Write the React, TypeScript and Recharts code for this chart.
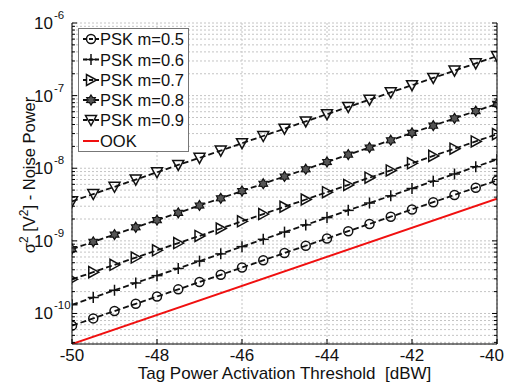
import { LineChart, Line, XAxis, YAxis, CartesianGrid } from "recharts";

const threshold = [-50, -49.5, -49, -48.5, -48, -47.5, -47, -46.5, -46, -45.5, -45, -44.5, -44, -43.5, -43, -42.5, -42, -41.5, -41, -40.5, -40];

const pskM05 = [6.8e-11, 8.56e-11, 1.08e-10, 1.36e-10, 1.71e-10, 2.15e-10, 2.71e-10, 3.41e-10, 4.29e-10, 5.4e-10, 6.8e-10, 8.56e-10, 1.08e-9, 1.36e-9, 1.71e-9, 2.15e-9, 2.71e-9, 3.41e-9, 4.29e-9, 5.4e-9, 6.8e-9];
const pskM06 = [1.32e-10, 1.66e-10, 2.09e-10, 2.63e-10, 3.32e-10, 4.17e-10, 5.26e-10, 6.62e-10, 8.33e-10, 1.05e-9, 1.32e-9, 1.66e-9, 2.09e-9, 2.63e-9, 3.32e-9, 4.17e-9, 5.26e-9, 6.62e-9, 8.33e-9, 1.05e-8, 1.32e-8];
const pskM07 = [2.95e-10, 3.71e-10, 4.68e-10, 5.89e-10, 7.41e-10, 9.33e-10, 1.17e-9, 1.48e-9, 1.86e-9, 2.34e-9, 2.95e-9, 3.71e-9, 4.68e-9, 5.89e-9, 7.41e-9, 9.33e-9, 1.17e-8, 1.48e-8, 1.86e-8, 2.34e-8, 2.95e-8];
const pskM08 = [7.7e-10, 9.69e-10, 1.22e-9, 1.54e-9, 1.93e-9, 2.43e-9, 3.07e-9, 3.86e-9, 4.86e-9, 6.12e-9, 7.7e-9, 9.69e-9, 1.22e-8, 1.54e-8, 1.93e-8, 2.43e-8, 3.07e-8, 3.86e-8, 4.86e-8, 6.12e-8, 7.7e-8];
const pskM09 = [3.5e-9, 4.41e-9, 5.55e-9, 6.98e-9, 8.79e-9, 1.11e-8, 1.39e-8, 1.75e-8, 2.21e-8, 2.78e-8, 3.5e-8, 4.41e-8, 5.55e-8, 6.98e-8, 8.79e-8, 1.11e-7, 1.39e-7, 1.75e-7, 2.21e-7, 2.78e-7, 3.5e-7];
// OOK is a straight line, only the two ends are given
const ook = [3.8e-11, null, null, null, null, null, null, null, null, null, null, null, null, null, null, null, null, null, null, null, 3.8e-9];

const xTicks = [-50, -48, -46, -44, -42, -40];
const yMajorTicks = [1e-10, 1e-9, 1e-8, 1e-7, 1e-6];
const yDomain = [3.8e-11, 1e-6];

const yMinorTicks: number[] = [];
for (let e = -11; e <= -7; e++) {
  for (let k = 2; k <= 9; k++) {
    const v = k * Math.pow(10, e);
    if (v >= yDomain[0] && v <= yDomain[1]) yMinorTicks.push(v);
  }
}
const yTicks = [...yMajorTicks, ...yMinorTicks].sort((a, b) => a - b);

const data = threshold.map((t, i) => ({
  t,
  m05: pskM05[i],
  m06: pskM06[i],
  m07: pskM07[i],
  m08: pskM08[i],
  m09: pskM09[i],
  ook: ook[i],
}));

const series = [
  { key: "m05", name: "PSK m=0.5", marker: "circle" },
  { key: "m06", name: "PSK m=0.6", marker: "plus" },
  { key: "m07", name: "PSK m=0.7", marker: "triRight" },
  { key: "m08", name: "PSK m=0.8", marker: "hexagram" },
  { key: "m09", name: "PSK m=0.9", marker: "triDown" },
];

const FONT = "'Liberation Sans', Arial, sans-serif";
const INK = "#111";

function Marker({ kind, cx, cy }: { kind: string; cx: number; cy: number }) {
  const s = { stroke: INK, strokeWidth: 1.5, fill: "none" };
  if (kind === "circle") return <circle cx={cx} cy={cy} r={4.5} {...s} />;
  if (kind === "plus")
    return (
      <g {...s}>
        <line x1={cx - 5.5} x2={cx + 5.5} y1={cy} y2={cy} />
        <line x1={cx} x2={cx} y1={cy - 5.5} y2={cy + 5.5} />
      </g>
    );
  if (kind === "triRight")
    return <polygon points={`${cx + 5.5},${cy} ${cx - 4.5},${cy - 5.5} ${cx - 4.5},${cy + 5.5}`} {...s} />;
  if (kind === "triDown")
    return <polygon points={`${cx - 5.5},${cy - 4.5} ${cx + 5.5},${cy - 4.5} ${cx},${cy + 5.5}`} {...s} />;
  // hexagram
  const pts: string[] = [];
  for (let i = 0; i < 12; i++) {
    const r = i % 2 === 0 ? 5 : 3;
    const a = (Math.PI / 6) * i - Math.PI / 2;
    pts.push(`${cx + r * Math.cos(a)},${cy + r * Math.sin(a)}`);
  }
  return <polygon points={pts.join(" ")} stroke={INK} strokeWidth={1.2} fill="#555" />;
}

function isMajor(v: number) {
  const e = Math.log10(v);
  return Math.abs(e - Math.round(e)) < 1e-6;
}

function LeftTick(props: any) {
  const { x, y, payload } = props;
  const v = payload.value;
  const major = isMajor(v);
  return (
    <g>
      <line x1={x} x2={x + (major ? 5 : 3)} y1={y} y2={y} stroke="#000" />
      {major && (
        <text fontFamily={FONT} fill={INK}>
          <tspan x={x - 19} y={y + 6} fontSize={17} textAnchor="end">10</tspan>
          <tspan x={x - 18} y={y - 4} fontSize={11.5} textAnchor="start">{`-${Math.abs(Math.round(Math.log10(v)))}`}</tspan>
        </text>
      )}
    </g>
  );
}

function RightTick(props: any) {
  const { x, y, payload } = props;
  const major = isMajor(payload.value);
  return <line x1={x - (major ? 5 : 3)} x2={x} y1={y} y2={y} stroke="#000" />;
}

function BottomTick(props: any) {
  const { x, y, payload, index } = props;
  // the last label sits against the right edge of the figure
  const last = index === xTicks.length - 1;
  return (
    <g>
      <line x1={x} x2={x} y1={y} y2={y - 5} stroke="#000" />
      <text
        x={last ? 504 : x}
        y={y + 17}
        textAnchor={last ? "end" : "middle"}
        fontSize={17}
        fontFamily={FONT}
        fill={INK}
      >
        {payload.value}
      </text>
    </g>
  );
}

function TopTick(props: any) {
  const { x, y } = props;
  return <line x1={x} x2={x} y1={y} y2={y + 5} stroke="#000" />;
}

function XLabel() {
  return (
    <text x={284.5} y={379} textAnchor="middle" fontSize={17} fontFamily={FONT} fill={INK}>
      {"Tag Power Activation Threshold\u00A0 [dBW]"}
    </text>
  );
}

function YLabel() {
  return (
    <text
      x={35}
      y={175}
      transform="rotate(-90, 35, 175)"
      textAnchor="middle"
      fontSize={16.5}
      fontFamily={FONT}
      fill={INK}
    >
      σ<tspan dy={-7} fontSize={12}>2</tspan>
      <tspan dy={7}> [V</tspan>
      <tspan dy={-7} fontSize={12}>2</tspan>
      <tspan dy={7}>] - Noise Power</tspan>
    </text>
  );
}

function LegendBox() {
  const rowY = [11, 31.5, 52, 72, 92, 113];
  return (
    <svg width={112} height={125} style={{ position: "absolute", left: 78, top: 28 }}>
      <rect x={0.5} y={0.5} width={110} height={123} fill="#fff" stroke="#777" />
      {series.map((s, i) => (
        <g key={s.key}>
          <line x1={5} x2={21} y1={rowY[i]} y2={rowY[i]} stroke={INK} strokeWidth={1.8} strokeDasharray="4 2" />
          <Marker kind={s.marker} cx={13} cy={rowY[i]} />
          <text x={22} y={rowY[i] + 6} fontSize={16.5} fontFamily={FONT} fill={INK}>
            {s.name}
          </text>
        </g>
      ))}
      <line x1={5} x2={21} y1={rowY[5]} y2={rowY[5]} stroke="#f01010" strokeWidth={2} />
      <text x={22} y={rowY[5] + 6} fontSize={16.5} fontFamily={FONT} fill={INK}>
        OOK
      </text>
    </svg>
  );
}

export default function App() {
  return (
    <div style={{ position: "absolute", left: 0, top: 0, width: 505, height: 383, background: "#fff" }}>
      <LineChart width={505} height={383} data={data} margin={{ top: 23, right: 0, left: 0, bottom: 0 }}>
        <CartesianGrid xAxisId="b" yAxisId="l" stroke="#c4c4c4" strokeDasharray="2 2" />
        <XAxis
          xAxisId="b"
          dataKey="t"
          type="number"
          domain={[-50, -40]}
          ticks={xTicks}
          interval={0}
          allowDataOverflow
          height={39}
          tickSize={0}
          tickMargin={0}
          tickLine={false}
          axisLine={{ stroke: "#000" }}
          tick={<BottomTick />}
          label={<XLabel />}
        />
        <XAxis
          xAxisId="t"
          orientation="top"
          dataKey="t"
          type="number"
          domain={[-50, -40]}
          ticks={xTicks}
          interval={0}
          allowDataOverflow
          height={0}
          tickSize={0}
          tickMargin={0}
          tickLine={false}
          axisLine={{ stroke: "#000" }}
          tick={<TopTick />}
        />
        <YAxis
          yAxisId="l"
          type="number"
          scale="log"
          domain={yDomain}
          ticks={yTicks}
          interval={0}
          allowDataOverflow
          width={72}
          tickSize={0}
          tickMargin={0}
          tickLine={false}
          axisLine={{ stroke: "#000" }}
          tick={<LeftTick />}
          label={<YLabel />}
        />
        <YAxis
          yAxisId="r"
          orientation="right"
          type="number"
          scale="log"
          domain={yDomain}
          ticks={yTicks}
          interval={0}
          allowDataOverflow
          width={8}
          tickSize={0}
          tickMargin={0}
          tickLine={false}
          axisLine={{ stroke: "#000" }}
          tick={<RightTick />}
        />
        <Line
          xAxisId="b"
          yAxisId="l"
          type="linear"
          dataKey="ook"
          stroke="#f01010"
          strokeWidth={2}
          dot={false}
          connectNulls
          isAnimationActive={false}
        />
        {series.map((s) => (
          <Line
            key={s.key}
            xAxisId="b"
            yAxisId="l"
            type="linear"
            dataKey={s.key}
            name={s.name}
            stroke={INK}
            strokeWidth={1.8}
            strokeDasharray="6 3"
            dot={(p: any) => <Marker key={`${s.key}-${p.index}`} kind={s.marker} cx={p.cx} cy={p.cy} />}
            isAnimationActive={false}
          />
        ))}
      </LineChart>
      <LegendBox />
    </div>
  );
}
